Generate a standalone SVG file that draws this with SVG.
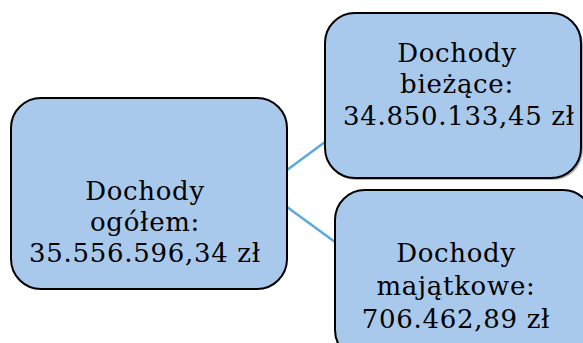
<svg xmlns="http://www.w3.org/2000/svg" width="583" height="343" viewBox="0 0 583 343">
<style>
.box{fill:#a8c9ec;stroke:#000;stroke-width:2}
.sh{fill:#7f7f7f;opacity:0.6}
.t{font-family:"DejaVu Serif",serif;font-size:26px;letter-spacing:0.7px;fill:#000;text-anchor:middle}
.c{stroke:#5aaadb;stroke-width:2.5;fill:none}
</style>
<rect width="583" height="343" fill="#fff"/>
<g id="connectors">
<line class="c" x1="287" y1="170" x2="325" y2="142"/>
<line class="c" x1="287" y1="207" x2="335" y2="242"/>
</g>
<g id="node-total">
<rect class="box" x="11" y="98" width="276" height="191" rx="30" ry="30"/>
<text class="t" x="145" y="200">Dochody</text>
<text class="t" x="145" y="231">ogółem:</text>
<text class="t" x="145" y="262">35.556.596,34 zł</text>
</g>
<g id="node-current">
<rect class="sh" x="327" y="15" width="256" height="165" rx="30" ry="30"/>
<rect class="box" x="325" y="13" width="256" height="165" rx="30" ry="30"/>
<text class="t" x="457" y="62">Dochody</text>
<text class="t" x="457" y="93">bieżące:</text>
<text class="t" x="459" y="125">34.850.133,45 zł</text>
</g>
<g id="node-assets">
<rect class="box" x="335" y="190" width="258" height="170" rx="30" ry="30"/>
<text class="t" x="456" y="262">Dochody</text>
<text class="t" x="456" y="295">majątkowe:</text>
<text class="t" x="456" y="328">706.462,89 zł</text>
</g>
</svg>
